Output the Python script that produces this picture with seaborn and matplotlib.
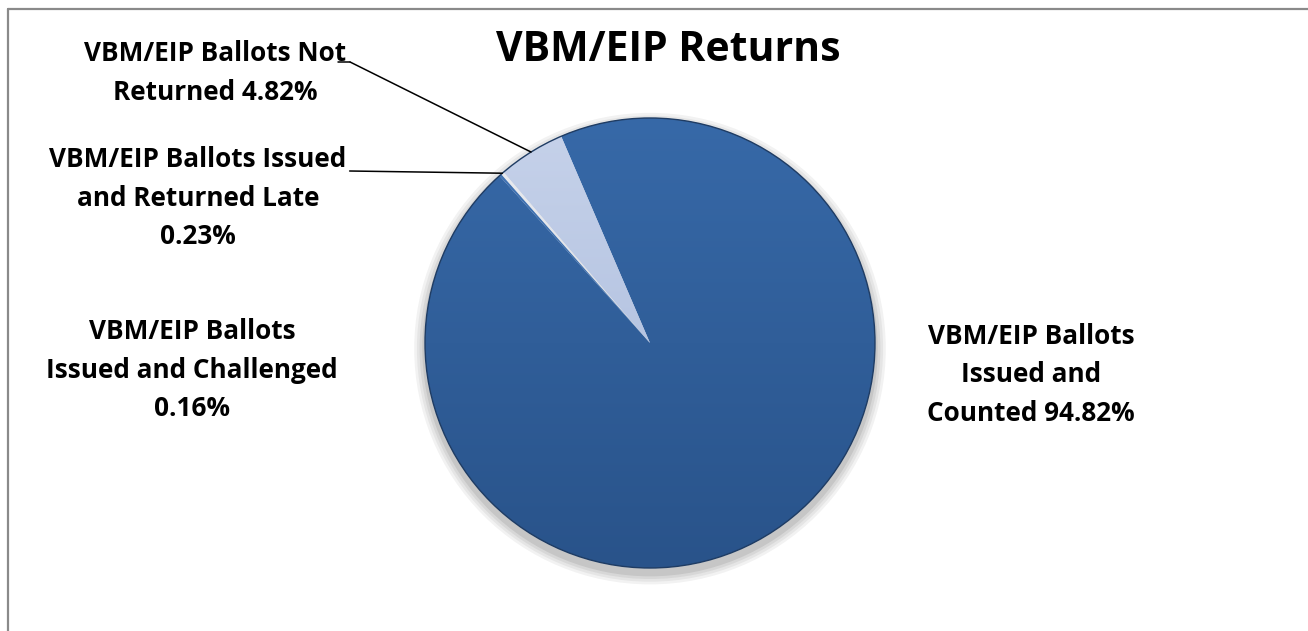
import numpy as np
import matplotlib.pyplot as plt
import seaborn as sns
from matplotlib.patches import Circle
from matplotlib.lines import Line2D
from matplotlib.colors import LinearSegmentedColormap

# datos del grafico
values = [94.82, 4.82, 0.23, 0.16]
label_lines = [
    ["VBM/EIP Ballots", "Issued and", "Counted {:.2f}%"],
    ["VBM/EIP Ballots Not", "Returned {:.2f}%"],
    ["VBM/EIP Ballots Issued", "and Returned Late", "{:.2f}%"],
    ["VBM/EIP Ballots", "Issued and Challenged", "{:.2f}%"],
]
title = "VBM/EIP Returns"

# estilo
colors = ["#2F5F9B", "#B4C3E0", "#DADCE2", "#3A6BA8"]
grad_top = ["#3769A8", "#C6D2EA", "#ECEEF2", "#4476B6"]
grad_bot = ["#29538A", "#A7B8DA", "#CCCED4", "#30609C"]

W, H = 1308, 631
sns.set_theme(style="white")
plt.rcParams['font.family'] = ['Open Sans', 'DejaVu Sans']
plt.rcParams['text.color'] = 'black'

fig = plt.figure(figsize=(W / 100, H / 100), dpi=100)
fig.patch.set_facecolor("white")

# ejes cuadrados para la tarta: centro (650, 343), radio 225 px
cx, cy, r = 650, 343, 225
m = 1.08
ax = fig.add_axes([(cx - r * m) / W, (H - cy - r * m) / H, 2 * r * m / W, 2 * r * m / H])

# sombra suave debajo de la tarta
for i, a in enumerate([0.05, 0.05, 0.06, 0.08]):
    ax.add_patch(Circle((0, -0.025), 1.0 + 0.012 * (4 - i), color="black", alpha=a, lw=0, zorder=0))

wedges, _ = ax.pie(values, colors=colors, startangle=132, counterclock=True, radius=1.0,
                   wedgeprops=dict(edgecolor="#D8DEE8", linewidth=0.6, zorder=2))
ax.set_xlim(-m, m)
ax.set_ylim(-m, m)
ax.axis("off")

# degradado vertical dentro de cada porcion
grad = np.linspace(1, 0, 256).reshape(-1, 1)
for w, c1, c2 in zip(wedges, grad_top, grad_bot):
    cmap = LinearSegmentedColormap.from_list("g", [c2, c1])
    im = ax.imshow(grad, extent=[-1, 1, -1, 1], cmap=cmap, aspect="auto", zorder=2.5, origin="upper")
    im.set_clip_path(w)

# borde exterior oscuro
ax.add_patch(Circle((0, 0), 1.0, fill=False, edgecolor="#1F3C63", lw=1.0, zorder=3))

# etiquetas
label_pos = [(1031, 344), (215, 61), (198, 167), (192, 339)]
step = 38.5
first_lines = []
for lines, v, (x, y) in zip(label_lines, values, label_pos):
    for k, line in enumerate(lines):
        t = fig.text(x / W, 1 - (y + k * step) / H, line.format(v), ha="center", va="baseline",
                     fontsize=18.8, fontweight="bold", color="black")
        if k == 0:
            first_lines.append(t)

fig.text(668 / W, 1 - 61 / H, title, ha="center", va="baseline", fontsize=29.5,
         fontweight="bold", color="black")

# lineas guia hacia las porciones pequeñas, desde el final de la primera linea
fig.canvas.draw()
renderer = fig.canvas.get_renderer()
for idx, (dx0, dx1, dy) in {1: (-8, 4, 1), 2: (3, 3, 4)}.items():
    bb = first_lines[idx].get_window_extent(renderer)
    y0 = H - label_pos[idx][1] - dy
    x0, x1 = bb.x1 + dx0, bb.x1 + dx1
    if x1 > x0:
        fig.add_artist(Line2D([x0 / W, x1 / W], [y0 / H, y0 / H], color="black", lw=1.1))
    w = wedges[idx]
    th = np.deg2rad((w.theta1 + w.theta2) / 2)
    ax.annotate("", xy=(np.cos(th), np.sin(th)), xycoords="data",
                xytext=(x1, y0), textcoords="figure pixels",
                arrowprops=dict(arrowstyle="-", color="black", lw=1.1, shrinkA=0, shrinkB=0))

# marco del grafico (arriba e izquierda)
fig.add_artist(Line2D([8 / W, 1], [1 - 9 / H, 1 - 9 / H], color="#8A8A8A", lw=1.6))
fig.add_artist(Line2D([8 / W, 8 / W], [0, 1 - 9 / H], color="#8A8A8A", lw=1.6))

fig.savefig("out.png", dpi=100, facecolor="white")
